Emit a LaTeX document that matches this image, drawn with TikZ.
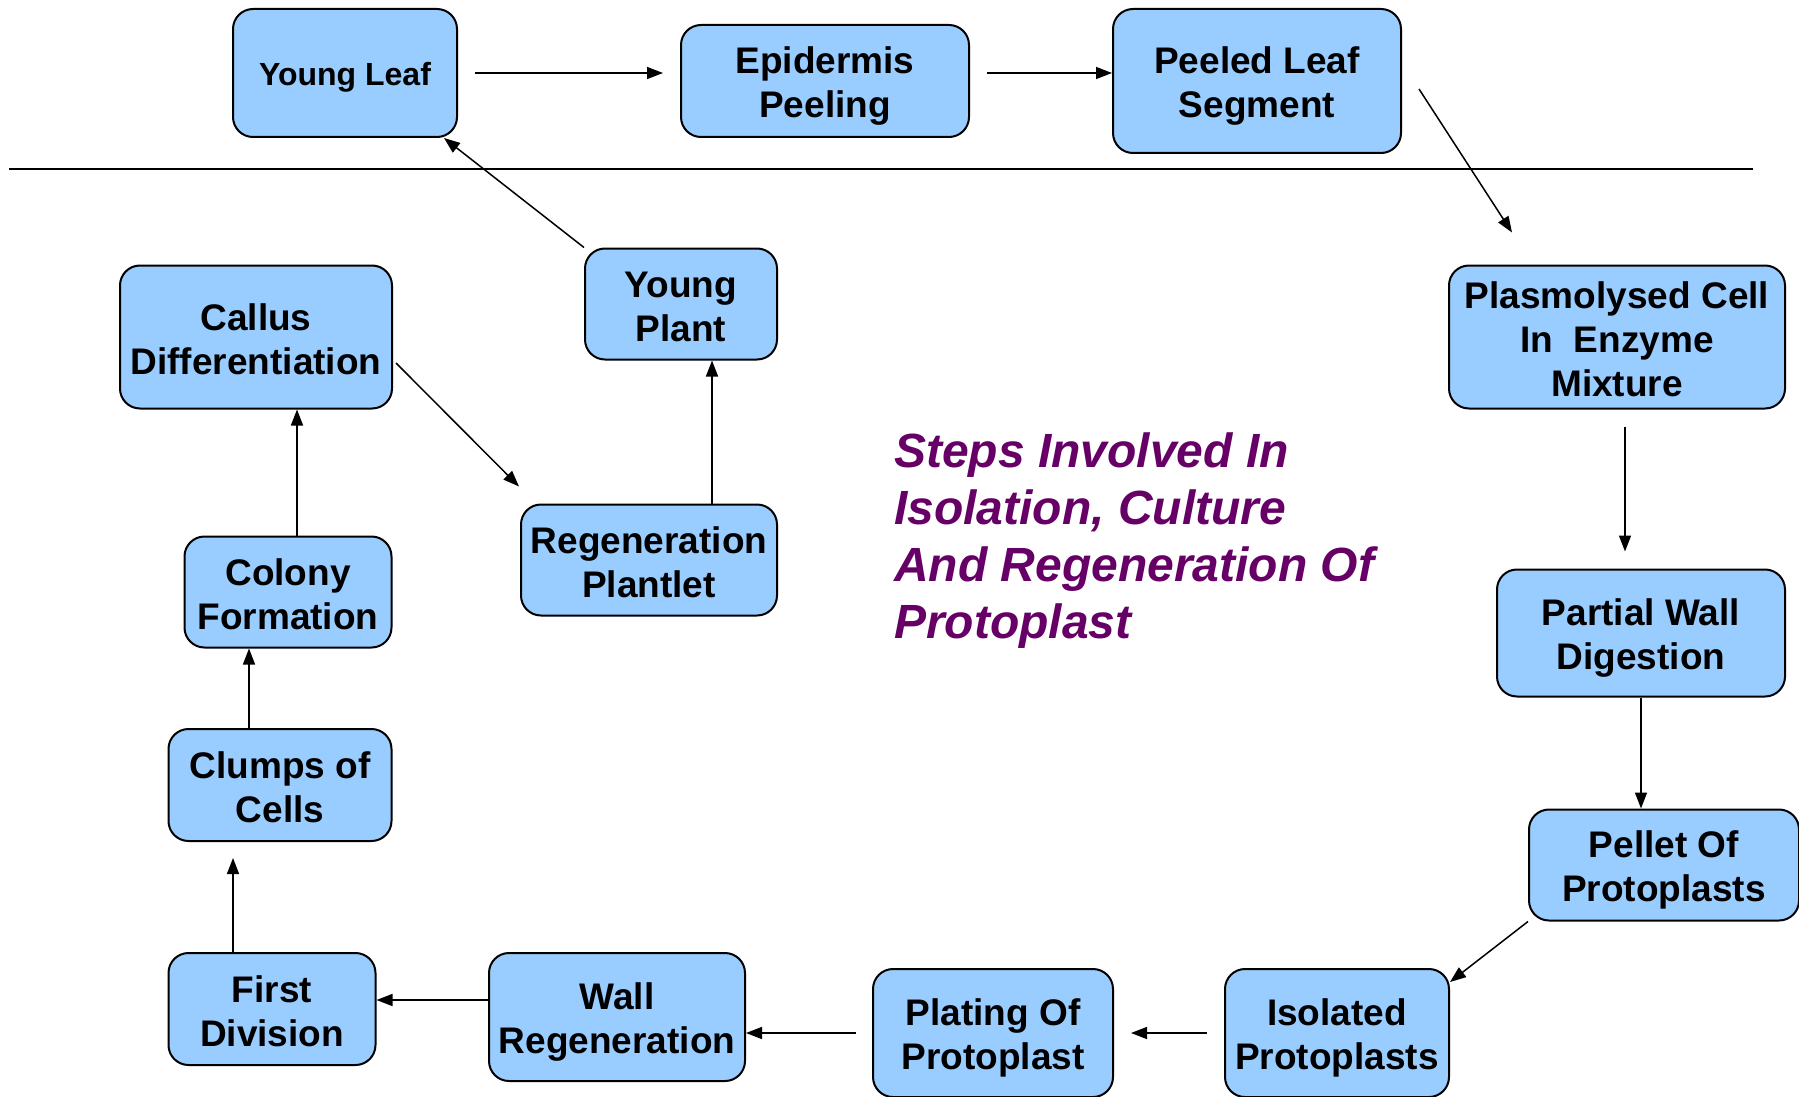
\documentclass[tikz,border=0pt]{standalone}
\usepackage{fontspec}
\setmainfont{Liberation Sans}
\usetikzlibrary{calc,arrows.meta}
\definecolor{boxblue}{HTML}{99CCFF}
\definecolor{titlepurple}{HTML}{660066}
\newcommand{\ps}{\rule{0pt}{1.01em}}
\newcommand{\pe}{\rule[-0.17em]{0pt}{0.17em}}
\begin{document}
\begin{tikzpicture}[x=1pt,y=-1pt,
  stepbox/.style={draw=black, line width=2pt, fill=boxblue, rounded corners=20pt,
    inner sep=0pt, align=center, font=\bfseries\fontsize{37}{44}\selectfont},
  arr/.style={line width=1.5pt, -{Triangle[length=16pt,width=12pt]}}]
\useasboundingbox (0,0) rectangle (1799,1097);
% nodes
\node[stepbox, minimum width=224pt, minimum height=128pt, font=\bfseries\fontsize{32}{38}\selectfont] (yl) at (345,73) {\ps Young Leaf\pe};
\node[stepbox, minimum width=288pt, minimum height=112pt] (ep) at (825,81) {\ps Epidermis\\Peeling\pe};
\node[stepbox, minimum width=288pt, minimum height=144pt] (pl) at (1257,81) {\ps Peeled Leaf\\Segment\pe};
\node[stepbox, minimum width=336pt, minimum height=143pt] (pc) at (1617,337) {\ps Plasmolysed Cell\\In\ \ Enzyme\\Mixture\pe};
\node[stepbox, minimum width=288pt, minimum height=127pt] (pw) at (1641,633) {\ps Partial Wall\\Digestion\pe};
\node[stepbox, minimum width=270pt, minimum height=111pt] (pp) at (1664,865) {\ps Pellet Of\\Protoplasts\pe};
\node[stepbox, minimum width=224pt, minimum height=128pt] (ip) at (1337,1033) {\ps Isolated\\Protoplasts\pe};
\node[stepbox, minimum width=240pt, minimum height=128pt] (pt) at (993,1033) {\ps Plating Of\\Protoplast\pe};
\node[stepbox, minimum width=256pt, minimum height=128pt] (wr) at (617,1017) {\ps Wall\\Regeneration\pe};
\node[stepbox, minimum width=207pt, minimum height=112pt] (fd) at (272,1009) {\ps First\\Division\pe};
\node[stepbox, minimum width=223pt, minimum height=112pt] (cc) at (280,785) {\ps Clumps of\\Cells\pe};
\node[stepbox, minimum width=207pt, minimum height=111pt] (cf) at (288,592) {\ps Colony\\Formation\pe};
\node[stepbox, minimum width=272pt, minimum height=143pt] (cd) at (256,337) {\ps Callus\\Differentiation\pe};
\node[stepbox, minimum width=256pt, minimum height=111pt] (rp) at (649,560) {\ps Regeneration\\Plantlet\pe};
\node[stepbox, minimum width=192pt, minimum height=111pt] (yp) at (681,304) {\ps Young\\Plant\pe};
% title
\node[anchor=north west, inner sep=0pt, align=left, text=titlepurple,
  font=\bfseries\itshape\fontsize{48}{57}\selectfont] (title) at (894,433)
  {Steps Involved In\\Isolation, Culture\\And Regeneration Of\\Protoplast};
% separator line
\coordinate (la) at (9,169);
\coordinate (lb) at (1753,169);
\draw[line width=2pt] (la) -- (lb);
% connectors
\draw[arr] ($(yl.east)+(17,0)$) -- ($(ep.west)+(-17,-8)$);
\draw[arr] ($(ep.east)+(17,-8)$) -- ($(pl.west)+(0,-8)$);
\draw[arr] ($(pl.east)+(17,8)$) -- ($(pc.north)+(-105,-32)$);
\draw[arr] ($(pc.south)+(8,17)$) -- ($(pw.north)+(-16,-17)$);
\draw[arr] (pw.south) -- (pw.south |- pp.north);
\draw[arr] (pp.south west) -- ($(ip.north east)+(0,14)$);
\draw[arr] ($(ip.west)+(-17,0)$) -- ($(pt.east)+(17,0)$);
\draw[arr] ($(pt.west)+(-16,0)$) -- ($(wr.east)+(0,16)$);
\draw[arr] ($(wr.west)+(0,-17)$) -- ($(fd.east)+(0,-9)$);
\draw[arr] ($(fd.north)+(-39,0)$) -- ($(cc.south)+(-47,16)$);
\draw[arr] ($(cc.north)+(-31,0)$) -- ($(cf.south)+(-39,0)$);
\draw[arr] ($(cf.north)+(9,0)$) -- ($(cd.south)+(41,0)$);
\draw[arr] ($(cd.east)+(3,26)$) -- ($(rp.north west)+(-1,-17)$);
\draw[arr] ($(rp.north)+(63,0)$) -- ($(yp.south)+(31,0)$);
\draw[arr] (yp.north west) -- ($(yl.south east)+(-14,0)$);
\end{tikzpicture}
\end{document}
